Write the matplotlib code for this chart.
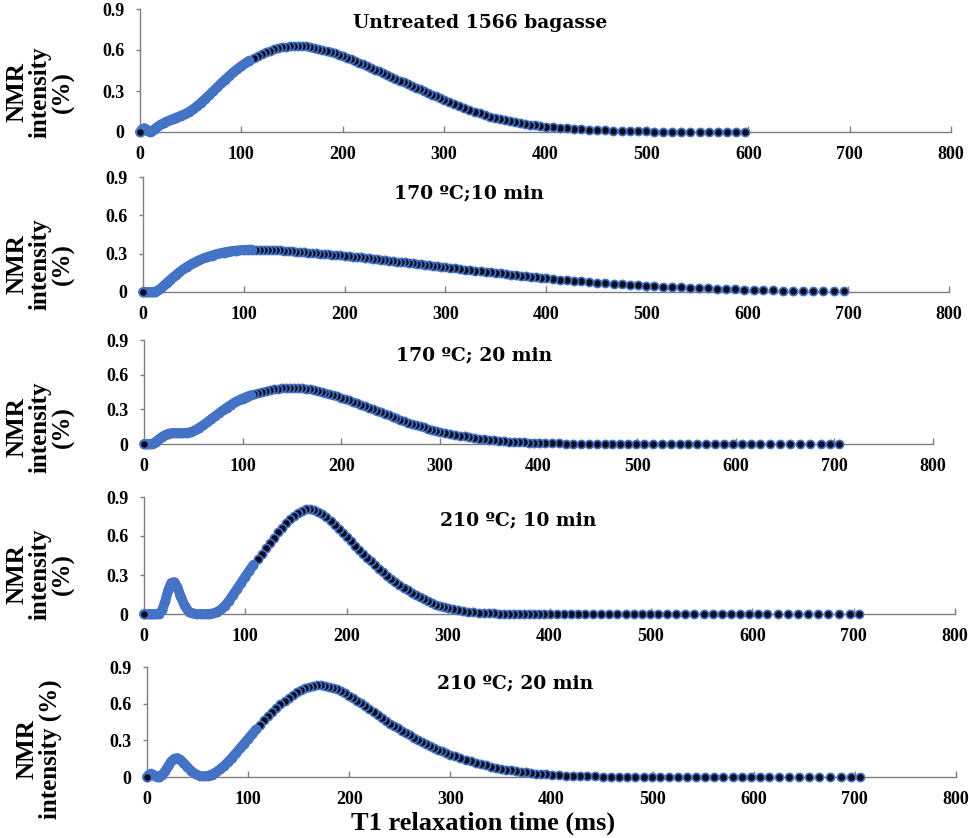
import matplotlib.pyplot as plt

plt.rcParams['font.family'] = ['Liberation Serif', 'DejaVu Serif']
plt.rcParams['font.weight'] = 'bold'

# T1 relaxation times (ms) shared by all samples
t1_ms = [0, 2, 4, 6, 8, 10, 12, 15, 18, 21, 24, 27, 30, 33, 36, 40, 44, 48, 52, 56, 60, 64, 68, 72, 76, 80,
         84, 88, 92, 96, 100, 104, 108,
         112, 116, 120, 124, 128, 132, 136, 140, 144, 148, 152, 156, 160, 164, 168, 172, 176, 180, 184, 188,
         192, 196, 200, 204, 208, 212, 216, 220, 224, 228, 232, 236, 240, 244, 248, 252, 256, 260, 264, 268,
         272, 276, 280, 284, 288, 292, 296, 300,
         305, 310, 315, 320, 325, 330, 335, 340, 345, 350, 355, 360, 365, 370, 375, 380, 385, 390, 395, 400,
         407, 414, 421, 428, 435, 443, 451, 459, 467, 475, 483, 491, 499, 507, 516, 525, 534, 543, 552, 561,
         570, 579, 588, 597, 606, 615, 625, 635, 645, 655, 665, 675, 686, 696, 705]

untreated_1566 = [
    0.0, 0.02, 0.028, 0.02, 0.006, 0.0, 0.008, 0.025, 0.042, 0.056, 0.068, 0.078, 0.088, 0.097, 0.106, 0.118,
    0.13, 0.146, 0.165, 0.188, 0.213, 0.24, 0.268, 0.297, 0.326, 0.355, 0.383, 0.41, 0.436, 0.46, 0.483, 0.504, 0.523,
    0.54, 0.556, 0.57, 0.583, 0.594, 0.604, 0.612, 0.619, 0.624, 0.628, 0.631, 0.632, 0.631, 0.629, 0.624, 0.617,
    0.61, 0.603, 0.594, 0.585, 0.575, 0.564, 0.553, 0.542, 0.531, 0.519, 0.507, 0.495, 0.482, 0.469, 0.456, 0.443,
    0.43, 0.417, 0.404, 0.39, 0.376, 0.363, 0.35, 0.337, 0.324, 0.311, 0.298, 0.285, 0.272, 0.26, 0.248, 0.236,
    0.22, 0.205, 0.19, 0.175, 0.161, 0.148, 0.136, 0.124, 0.113, 0.103, 0.094, 0.086, 0.078, 0.071, 0.065, 0.059,
    0.053, 0.048, 0.044, 0.04,
    0.035, 0.03, 0.026, 0.022, 0.019, 0.016, 0.013, 0.011, 0.009, 0.007, 0.006, 0.005, 0.004, 0.003, 0.003, 0.002,
    0.002, 0.002, 0.001, 0.001, 0.001, 0.001, 0.001, 0.001]

t170_10min = [
    0.0, 0.0, 0.0, 0.0, 0.0, 0.0, 0.002, 0.012, 0.03, 0.052, 0.074, 0.095, 0.115, 0.135, 0.154, 0.178, 0.199,
    0.218, 0.235, 0.25, 0.263, 0.275, 0.285, 0.294, 0.302, 0.309, 0.315, 0.32, 0.324, 0.327, 0.329, 0.331, 0.332,
    0.332, 0.332, 0.331, 0.33, 0.329, 0.327, 0.325, 0.323, 0.321, 0.319, 0.316, 0.314, 0.311, 0.309, 0.306, 0.304,
    0.301, 0.298, 0.295, 0.292, 0.289, 0.286, 0.283, 0.28, 0.277, 0.273, 0.27, 0.267, 0.263, 0.26, 0.256, 0.253,
    0.249, 0.246, 0.242, 0.238, 0.235, 0.231, 0.227, 0.224, 0.22, 0.216, 0.213, 0.209, 0.205, 0.202, 0.198, 0.194,
    0.19, 0.185, 0.181, 0.176, 0.172, 0.167, 0.163, 0.158, 0.154, 0.149, 0.145, 0.14, 0.136, 0.132, 0.127, 0.123,
    0.119, 0.115, 0.111, 0.107,
    0.102, 0.097, 0.092, 0.087, 0.083, 0.078, 0.073, 0.069, 0.065, 0.061, 0.057, 0.053, 0.05, 0.047, 0.043, 0.04,
    0.037, 0.034, 0.031, 0.028, 0.026, 0.023, 0.021, 0.019, 0.017, 0.015, 0.013, 0.011, 0.01, 0.008, 0.007, 0.006,
    0.005, 0.004]

t170_20min = [
    0.0, 0.0, 0.0, 0.0, 0.002, 0.008, 0.02, 0.04, 0.06, 0.076, 0.087, 0.093, 0.095, 0.095, 0.094, 0.094, 0.097,
    0.105, 0.12, 0.14, 0.163, 0.188, 0.214, 0.24, 0.266, 0.291, 0.315, 0.338, 0.36, 0.378, 0.393, 0.408, 0.421,
    0.433, 0.444, 0.454, 0.462, 0.469, 0.475, 0.48, 0.484, 0.486, 0.487, 0.486, 0.484, 0.481, 0.477, 0.472, 0.466,
    0.459, 0.451, 0.442, 0.433, 0.423, 0.413, 0.402, 0.39, 0.378, 0.366, 0.353, 0.34, 0.327, 0.314, 0.3, 0.287,
    0.274, 0.261, 0.248, 0.235, 0.222, 0.21, 0.198, 0.186, 0.175, 0.164, 0.153, 0.143, 0.133, 0.124, 0.115, 0.107,
    0.097, 0.088, 0.08, 0.072, 0.065, 0.058, 0.052, 0.046, 0.041, 0.036, 0.032, 0.028, 0.024, 0.021, 0.018, 0.016,
    0.014, 0.012, 0.01, 0.009,
    0.007, 0.006, 0.005, 0.004, 0.003, 0.003, 0.002, 0.002, 0.002, 0.001, 0.001, 0.001, 0.001, 0.001, 0.001, 0.0,
    0.0, 0.0, 0.0, 0.0, 0.0, 0.0, 0.0, 0.0, 0.0, 0.0, 0.0, 0.0, 0.0, 0.0, 0.0, 0.0, 0.0, 0.0, 0.0]

t210_10min = [
    0.0, 0.0, 0.0, 0.0, 0.0, 0.0, 0.0, 0.002, 0.03, 0.1, 0.185, 0.24, 0.245, 0.205, 0.14, 0.065, 0.018, 0.004,
    0.0, 0.0, 0.0, 0.001, 0.004, 0.015, 0.035, 0.065, 0.103, 0.148, 0.195, 0.242, 0.288, 0.334, 0.378,
    0.422, 0.465, 0.507, 0.548, 0.588, 0.627, 0.664, 0.699, 0.73, 0.757, 0.779, 0.796, 0.807, 0.81, 0.803, 0.788,
    0.768, 0.744, 0.716, 0.686, 0.655, 0.622, 0.59, 0.558, 0.526, 0.495, 0.464, 0.434, 0.404, 0.375, 0.347, 0.32,
    0.294, 0.27, 0.246, 0.224, 0.203, 0.183, 0.164, 0.146, 0.129, 0.113, 0.098, 0.085, 0.073, 0.062, 0.052, 0.044,
    0.035, 0.027, 0.021, 0.016, 0.012, 0.009, 0.007, 0.005, 0.004, 0.003, 0.002, 0.002, 0.001, 0.001, 0.001, 0.0,
    0.0, 0.0, 0.0, 0.0,
    0.0, 0.0, 0.0, 0.0, 0.0, 0.0, 0.0, 0.0, 0.0, 0.0, 0.0, 0.0, 0.0, 0.0, 0.0, 0.0, 0.0, 0.0, 0.0, 0.0, 0.0, 0.0,
    0.0, 0.0, 0.0, 0.0, 0.0, 0.0, 0.0, 0.0, 0.0, 0.0, 0.0, 0.0, 0.0]

t210_20min = [
    0.0, 0.02, 0.028, 0.02, 0.008, 0.002, 0.004, 0.018, 0.048, 0.088, 0.127, 0.15, 0.155, 0.142, 0.117, 0.08,
    0.047, 0.023, 0.01, 0.005, 0.01, 0.02, 0.038, 0.062, 0.09, 0.122, 0.157, 0.195, 0.234, 0.273, 0.312, 0.351, 0.39,
    0.428, 0.465, 0.5, 0.534, 0.566, 0.596, 0.624, 0.649, 0.672, 0.692, 0.71, 0.725, 0.737, 0.745, 0.749, 0.749,
    0.746, 0.739, 0.729, 0.717, 0.702, 0.685, 0.666, 0.646, 0.625, 0.603, 0.58, 0.556, 0.532, 0.507, 0.482, 0.458,
    0.437, 0.417, 0.397, 0.377, 0.358, 0.34, 0.322, 0.304, 0.287, 0.27, 0.254, 0.238, 0.223, 0.209, 0.196, 0.183,
    0.168, 0.154, 0.141, 0.128, 0.116, 0.105, 0.095, 0.085, 0.076, 0.068, 0.061, 0.054, 0.048, 0.042, 0.037, 0.032,
    0.028, 0.024, 0.021, 0.018,
    0.015, 0.012, 0.01, 0.008, 0.006, 0.005, 0.004, 0.003, 0.002, 0.002, 0.001, 0.001, 0.001, 0.001, 0.001, 0.0,
    0.0, 0.0, 0.0, 0.0, 0.0, 0.0, 0.0, 0.0, 0.0, 0.0, 0.0, 0.0, 0.0, 0.0, 0.0, 0.0, 0.0, 0.0, 0.0]

samples = [untreated_1566, t170_10min, t170_20min, t210_10min, t210_20min]
titles = ['Untreated 1566 bagasse', '170 ºC;10 min', '170 ºC; 20 min', '210 ºC; 10 min', '210 ºC; 20 min']
ylabels = ['NMR\nintensity\n(%)'] * 4 + ['NMR\nintensity (%)']
x_ticks = [0, 100, 200, 300, 400, 500, 600, 700, 800]
y_ticks = [0, 0.3, 0.6, 0.9]
y_tick_labels = ['0', '0.3', '0.6', '0.9']

W, H = 969, 838
# pixel frame of each panel: x at 0, x at 800, y at 0, y at 0.9
frames = [(140, 951, 132, 9), (143, 949, 292, 177), (144, 933, 444, 340),
          (144, 955, 614, 497), (147, 956, 777, 667)]
title_xy = [(336, 0.795), (324, 0.772), (335, 0.77), (369, 0.723), (364, 0.767)]
ylabel_xy = [(40, 92), (40, 264), (40, 427), (40, 574), (39, 749)]

blue = '#4472C4'
dark = '#0b0b1c'
gray = '#7f7f7f'
n_dense = 33  # points that merge into a solid band
ms, mew = 5.9, 1.2

fig = plt.figure(figsize=(W / 100, H / 100), dpi=100)

for i, ys in enumerate(samples):
    x0, x1, y0, y1 = frames[i]
    ax = fig.add_axes([x0 / W, 1 - y0 / H, (x1 - x0) / W, (y0 - y1) / H])
    xs = t1_ms[:len(ys)]

    # later points sit underneath earlier ones
    ax.plot(xs[::-1], ys[::-1], ls='none', marker='o', ms=ms, mfc=dark, mec=blue, mew=mew,
            clip_on=False, zorder=3)
    ax.plot(xs[:n_dense], ys[:n_dense], color=blue, lw=ms + mew, solid_capstyle='round',
            solid_joinstyle='round', clip_on=False, zorder=4)
    ax.plot(xs[:1], ys[:1], ls='none', marker='o', ms=ms, mfc=dark, mec=blue, mew=mew,
            clip_on=False, zorder=5)

    ax.set_xlim(0, 800)
    ax.set_ylim(0, 0.9)
    ax.set_xticks(x_ticks)
    ax.set_xticklabels([str(t) for t in x_ticks])
    ax.set_yticks(y_ticks)
    ax.set_yticklabels(y_tick_labels)
    for side in ['top', 'right']:
        ax.spines[side].set_visible(False)
    for side in ['left', 'bottom']:
        ax.spines[side].set_color(gray)
        ax.spines[side].set_linewidth(1)
    ax.tick_params(axis='x', direction='in', length=4, width=1, color=gray, pad=10,
                   labelsize=13)
    ax.tick_params(axis='y', direction='out', length=3, width=1, color=gray, pad=8,
                   labelsize=13)
    ax.patch.set_alpha(0)

    tx, ty = title_xy[i]
    ax.text(tx, ty, titles[i], ha='center', va='center', fontsize=13.5,
            fontweight='bold', family=['DejaVu Serif'])

    lx, ly = ylabel_xy[i]
    fig.text(lx / W, 1 - ly / H, ylabels[i], rotation=90, ha='center', va='center',
             multialignment='center', fontsize=18, fontweight='bold', linespacing=1.0)

fig.text(483 / W, 1 - 823 / H, 'T1 relaxation time (ms)', ha='center', va='center',
         fontsize=19, fontweight='bold')

fig.savefig('out.png', dpi=100)
